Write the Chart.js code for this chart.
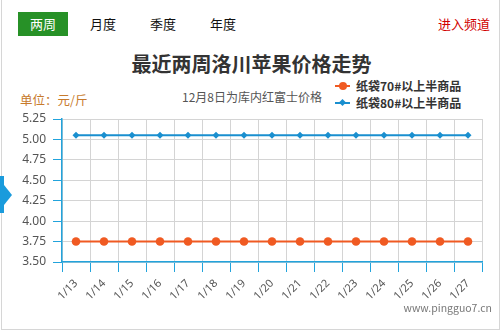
<!DOCTYPE html>
<html>
<head>
<meta charset="utf-8">
<script src="https://cdn.jsdelivr.net/npm/chart.js@4/dist/chart.umd.min.js"></script>
<style>
  html, body { margin: 0; padding: 0; background: #fff; }
  body { width: 503px; height: 332px; position: relative; overflow: hidden;
         font-family: "Noto Sans CJK SC", "Noto Sans", sans-serif; }
  .frame { position: absolute; left: 1px; top: -2px; width: 499px; height: 332px;
           border: 1px solid #d6d6d6; border-top: none; box-sizing: border-box; }
  .arrow-bar { position: absolute; left: 0; top: 176px; width: 4px; height: 37px; background: #1a9bdc; }
  .arrow-tip { position: absolute; left: 4px; top: 185px; width: 0; height: 0;
               border-top: 10px solid transparent; border-bottom: 10px solid transparent;
               border-left: 8px solid #1a9bdc; }
  .tab { position: absolute; top: 12px; height: 24px; width: 50px; line-height: 24px;
         text-align: center; font-size: 13px; color: #111; }
  .tab.on { background: #279127; color: #fff; }
  .channel { position: absolute; right: 13px; top: 15px; font-size: 13px; color: #d10000; line-height: 18px; }
  .title { position: absolute; left: 0; width: 503px; top: 50px; text-align: center;
           font-size: 20px; font-weight: bold; color: #333; line-height: 28px; }
  .unit { position: absolute; left: 20px; top: 91px; font-size: 12.5px; color: #c77a2c; line-height: 18px; }
  .note { position: absolute; left: 182px; top: 88px; font-size: 12px; color: #555; line-height: 18px; }
  .legend { position: absolute; left: 335px; top: 77px; font-size: 12px; font-weight: bold; color: #333; }
  .legend .row { height: 17px; line-height: 17px; position: relative; padding-left: 21px; white-space: nowrap; }
  .legend .line { position: absolute; left: 0; top: 8px; width: 15px; height: 2px; }
  .legend .dot { position: absolute; left: 4px; top: 5px; width: 8px; height: 8px; border-radius: 50%; }
  .legend .dia { position: absolute; left: 5px; top: 6px; width: 5px; height: 5px; transform: rotate(45deg); }
  .site { position: absolute; right: 11px; top: 300px; font-size: 10.5px; color: #777; line-height: 16px; }
  #wrap { position: absolute; left: 0; top: 0; width: 503px; height: 332px; }
</style>
</head>
<body>
<div class="frame"></div>
<div class="arrow-bar"></div>
<div class="arrow-tip"></div>

<div class="tab on" style="left:18px">两周</div>
<div class="tab" style="left:78px">月度</div>
<div class="tab" style="left:138px">季度</div>
<div class="tab" style="left:198px">年度</div>
<div class="channel">进入频道</div>

<div class="title">最近两周洛川苹果价格走势</div>
<div class="unit">单位：元/斤</div>
<div class="note">12月8日为库内红富士价格</div>

<div class="legend">
  <div class="row"><span class="line" style="background:#f05a22"></span><span class="dot" style="background:#f05a22"></span>纸袋70#以上半商品</div>
  <div class="row"><span class="line" style="background:#1a8fcf"></span><span class="dia" style="background:#1a8fcf"></span>纸袋80#以上半商品</div>
</div>

<div id="wrap"><canvas id="c" width="503" height="332"></canvas></div>
<div class="site">www.pingguo7.cn</div>

<script>
// Dates of the last two weeks
const dates = ['1/13','1/14','1/15','1/16','1/17','1/18','1/19','1/20','1/21','1/22','1/23','1/24','1/25','1/26','1/27'];
// Prices in yuan per jin
const bag70 = [3.75,3.75,3.75,3.75,3.75,3.75,3.75,3.75,3.75,3.75,3.75,3.75,3.75,3.75,3.75];
const bag80 = [5.05,5.05,5.05,5.05,5.05,5.05,5.05,5.05,5.05,5.05,5.05,5.05,5.05,5.05,5.05];
const seriesNames = ['纸袋70#以上半商品', '纸袋80#以上半商品'];
// Value axis range
const yMin = 3.5, yMax = 5.25, yStep = 0.25;

const axisBlue = '#22a3dc';
const gridGray = '#d4d4d4';
const labelColor = '#555';

new Chart(document.getElementById('c'), {
  type: 'line',
  data: {
    labels: dates,
    datasets: [
      {
        label: seriesNames[0],
        data: bag70,
        borderColor: '#f05a22',
        backgroundColor: '#f05a22',
        borderWidth: 2,
        pointStyle: 'circle',
        pointRadius: 4.3,
        pointBorderWidth: 0,
        tension: 0
      },
      {
        label: seriesNames[1],
        data: bag80,
        borderColor: '#1a8fcf',
        backgroundColor: '#1a8fcf',
        borderWidth: 2,
        pointStyle: 'rectRot',
        pointRadius: 3.5,
        pointBorderWidth: 0,
        tension: 0
      }
    ]
  },
  options: {
    responsive: false,
    animation: false,
    devicePixelRatio: 1,
    layout: { padding: { top: 119, right: 21, bottom: 0, left: 0 } },
    plugins: { legend: { display: false }, title: { display: false }, tooltip: { enabled: false } },
    scales: {
      x: {
        offset: true,
        grid: { offset: true, color: gridGray, tickColor: axisBlue, tickLength: 10, lineWidth: 1 },
        border: { color: axisBlue, width: 1.5 },
        ticks: {
          color: labelColor,
          font: { family: 'Noto Sans', size: 11 },
          minRotation: 45, maxRotation: 45,
          padding: 5,
          autoSkip: false
        },
        afterFit(scale) { scale.height = 70; }
      },
      y: {
        min: yMin, max: yMax,
        grid: { color: gridGray, tickColor: axisBlue, tickLength: 9, lineWidth: 1 },
        border: { color: axisBlue, width: 1.5 },
        ticks: {
          stepSize: yStep,
          color: labelColor,
          font: { family: 'Noto Sans', size: 12 },
          padding: 7,
          callback: v => Number(v).toFixed(2)
        },
        afterFit(scale) { scale.width = 62; }
      }
    }
  }
});
</script>
</body>
</html>
